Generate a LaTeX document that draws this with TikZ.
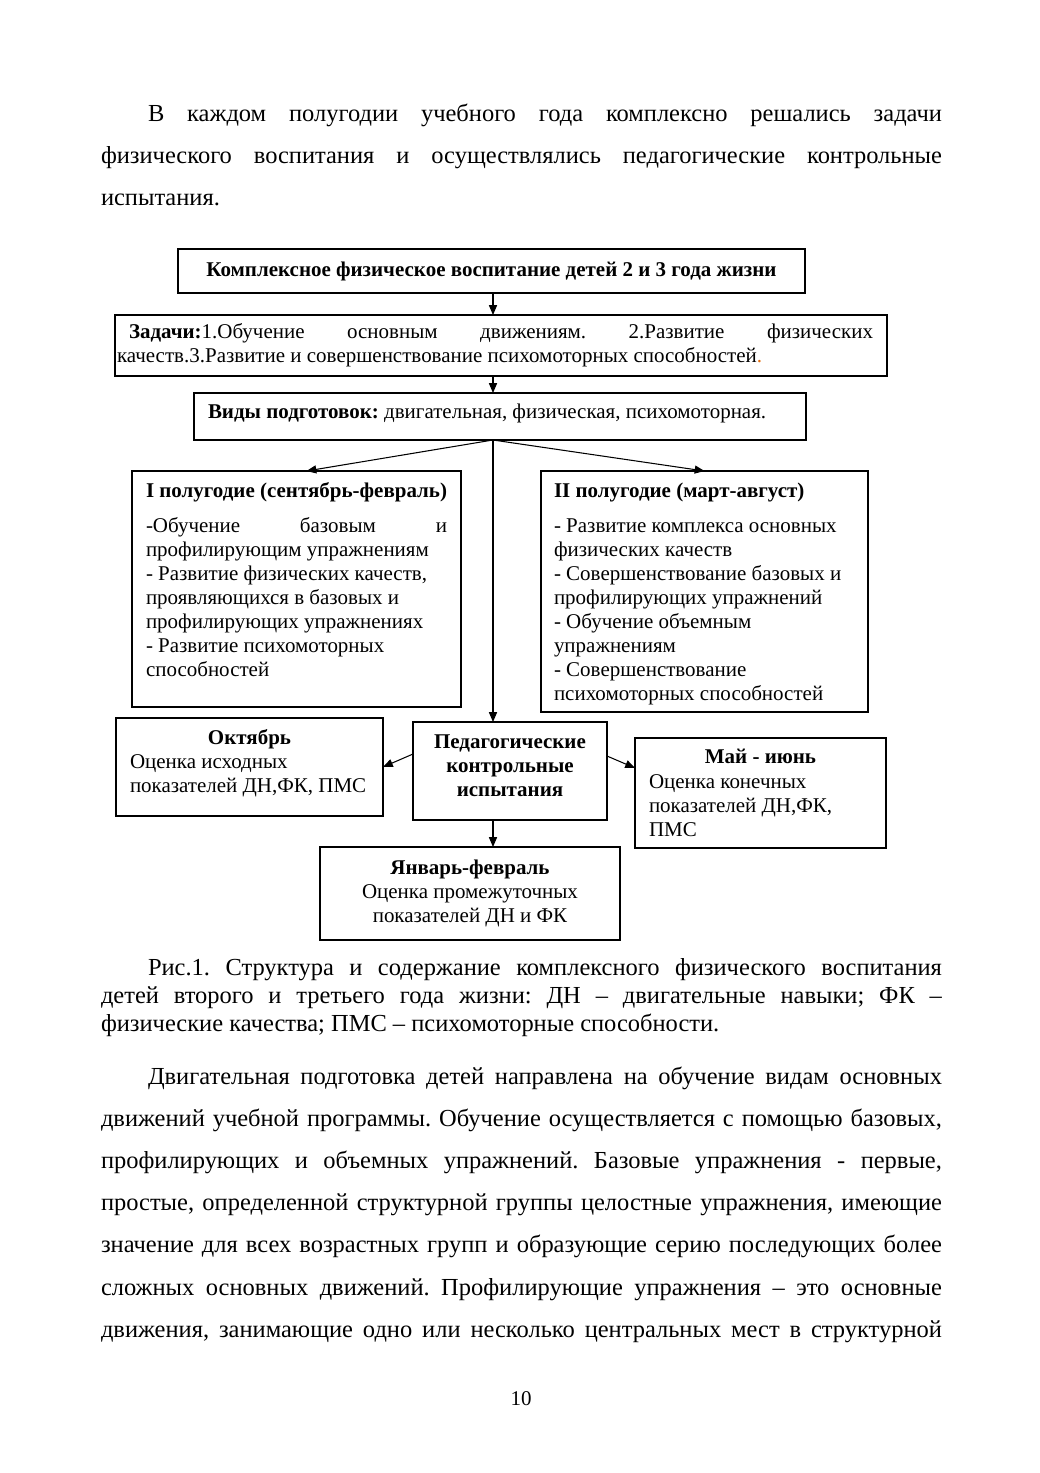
\documentclass[tikz,border=0pt]{standalone}
\usepackage{fontspec}
\setmainfont{Liberation Serif}
\usetikzlibrary{arrows.meta,calc}
\frenchspacing
\newdimen\pxu \pxu=0.572pt
\definecolor{dotor}{RGB}{228,108,10}
\tikzset{
  boxst/.style={draw, line width=0.75pt, inner sep=0pt, outer sep=0pt, rectangle},
  txt/.style={anchor=base west, inner sep=0pt, outer sep=0pt, font=\fontsize{12}{13.8}\selectfont},
  body/.style={anchor=base west, inner sep=0pt, outer sep=0pt, font=\fontsize{14}{16}\selectfont},
  arr/.style={line width=0.6pt, -{Triangle[length=5.6pt,width=4.6pt]}},
}
\newcommand\boxat[5]{\node[boxst, minimum width={(#4-#2)*0.572pt}, minimum height={(#5-#3)*0.572pt}] (#1) at ({(#2+#4)/2},{(#3+#5)/2}) {};}
\newcommand\J[2]{\hbox to #1\pxu{#2}}
\newcommand\C[2]{\hbox to #1\pxu{\hfil #2\hfil}}
\newcommand\VL[2]{\vtop{\baselineskip=#1\pxu\lineskiplimit=-100pt #2}}
\begin{document}
\begin{tikzpicture}[x=0.572pt, y=-0.572pt]
\fill[white] (0,0) rectangle (1040,1473);
\useasboundingbox (0,0) rectangle (1040,1473);

% ---------- paragraph 1 ----------
\node[body] (p1) at (101,121) {\VL{42}{%
\J{841}{\hskip47\pxu В каждом полугодии учебного года комплексно решались задачи}%
\J{841}{физического воспитания и осуществлялись педагогические контрольные}%
\hbox{испытания.}}};

% ---------- boxes ----------
\boxat{top}{178}{249}{805}{293}
\boxat{zad}{115}{315}{887}{376}
\boxat{vidy}{194}{393}{806}{440}
\boxat{h1}{132}{471}{461}{707}
\boxat{h2}{541}{471}{868}{712}
\boxat{okt}{116}{718}{383}{816}
\boxat{ped}{413}{722}{607}{820}
\boxat{may}{635}{738}{886}{848}
\boxat{jan}{320}{847}{620}{940}

% ---------- box texts ----------
\node[txt] (toptx) at (178,276) {\C{627}{\textbf{Комплексное физическое воспитание детей 2 и 3 года жизни}}};
\node[txt] (zadtx) at (117,338) {\VL{24}{%
\J{756}{\hskip12\pxu\textbf{Задачи:}1.Обучение основным движениям. 2.Развитие физических}%
\hbox{качеств.3.Развитие и совершенствование психомоторных способностей\textcolor{dotor}{.}}}};
\node[txt] (vidytx) at (208,418) {\textbf{Виды подготовок:} двигательная, физическая, психомоторная.};

\node[txt] (h1tx) at (146,497) {\VL{24}{%
\hbox{\textbf{I полугодие (сентябрь-февраль)}}\vskip11\pxu
\J{301}{-Обучение базовым и}%
\hbox{профилирующим упражнениям}%
\hbox{- Развитие физических качеств,}%
\hbox{проявляющихся в базовых и}%
\hbox{профилирующих упражнениях}%
\hbox{- Развитие психомоторных}%
\hbox{способностей}}};

\begin{scope}
\clip (541,471) rectangle (868,704);
\node[txt] (h2tx) at (554,497) {\VL{24}{%
\hbox{\textbf{II полугодие (март-август)}}\vskip11\pxu
\hbox{- Развитие комплекса основных}%
\hbox{физических качеств}%
\hbox{- Совершенствование базовых и}%
\hbox{профилирующих упражнений}%
\hbox{- Обучение объемным}%
\hbox{упражнениям}%
\hbox{- Совершенствование}%
\hbox{психомоторных способностей}}};
\end{scope}

\node[txt] (okth) at (116,744) {\C{267}{\textbf{Октябрь}}};
\node[txt] (okttx) at (130,768) {\VL{24}{\hbox{Оценка исходных}\hbox{показателей ДН,ФК, ПМС}}};

\node[txt] (pedtx) at (413,748) {\VL{24}{%
\C{194}{\textbf{Педагогические}}%
\C{194}{\textbf{контрольные}}%
\C{194}{\textbf{испытания}}}};

\node[txt] (mayh) at (635,763) {\C{251}{\textbf{Май - июнь}}};
\node[txt] (maytx) at (649,788) {\VL{24}{\hbox{Оценка конечных}\hbox{показателей ДН,ФК,}\hbox{ПМС}}};

\node[txt] (jantx) at (320,874) {\VL{24}{%
\C{300}{\textbf{Январь-февраль}}%
\C{300}{Оценка промежуточных}%
\C{300}{показателей ДН и ФК}}};

% ---------- connectors ----------
\coordinate (sx) at (493,0);
\coordinate (split) at (vidy.south -| sx);
\draw[arr] (top.south -| sx) -- (zad.north -| sx);
\draw[arr] (zad.south -| sx) -- (vidy.north -| sx);
\draw[arr] (split) -- ($(h1.north)+(10,0)$);
\draw[arr] (split) -- (h2.north);
\draw[arr] (split) -- (ped.north -| sx);
\draw[arr] ($(ped.west)+(0,-17)$) -- (okt.east);
\draw[arr] ($(ped.east)+(0,-15)$) -- ($(may.west)+(0,-25)$);
\draw[arr] (ped.south -| sx) -- (jan.north -| sx);

% ---------- caption ----------
\node[body] (cap) at (101,975) {\VL{28}{%
\J{841}{\hskip47\pxu Рис.1. Структура и содержание комплексного физического воспитания}%
\J{841}{детей второго и третьего года жизни: ДН – двигательные навыки; ФК –}%
\hbox{физические качества; ПМС – психомоторные способности.}}};

% ---------- paragraph 2 ----------
\node[body] (p2) at (101,1084) {\VL{42.2}{%
\J{841}{\hskip47\pxu Двигательная подготовка детей направлена на обучение видам основных}%
\J{841}{движений учебной программы. Обучение осуществляется с помощью базовых,}%
\J{841}{профилирующих и объемных упражнений. Базовые упражнения - первые,}%
\J{841}{простые, определенной структурной группы целостные упражнения, имеющие}%
\J{841}{значение для всех возрастных групп и образующие серию последующих более}%
\J{841}{сложных основных движений. Профилирующие упражнения – это основные}%
\J{841}{движения, занимающие одно или несколько центральных мест в структурной}}};

\node[anchor=base, inner sep=0pt, font=\fontsize{12}{14}\selectfont] (pg) at (521,1405) {10};
\end{tikzpicture}
\end{document}
